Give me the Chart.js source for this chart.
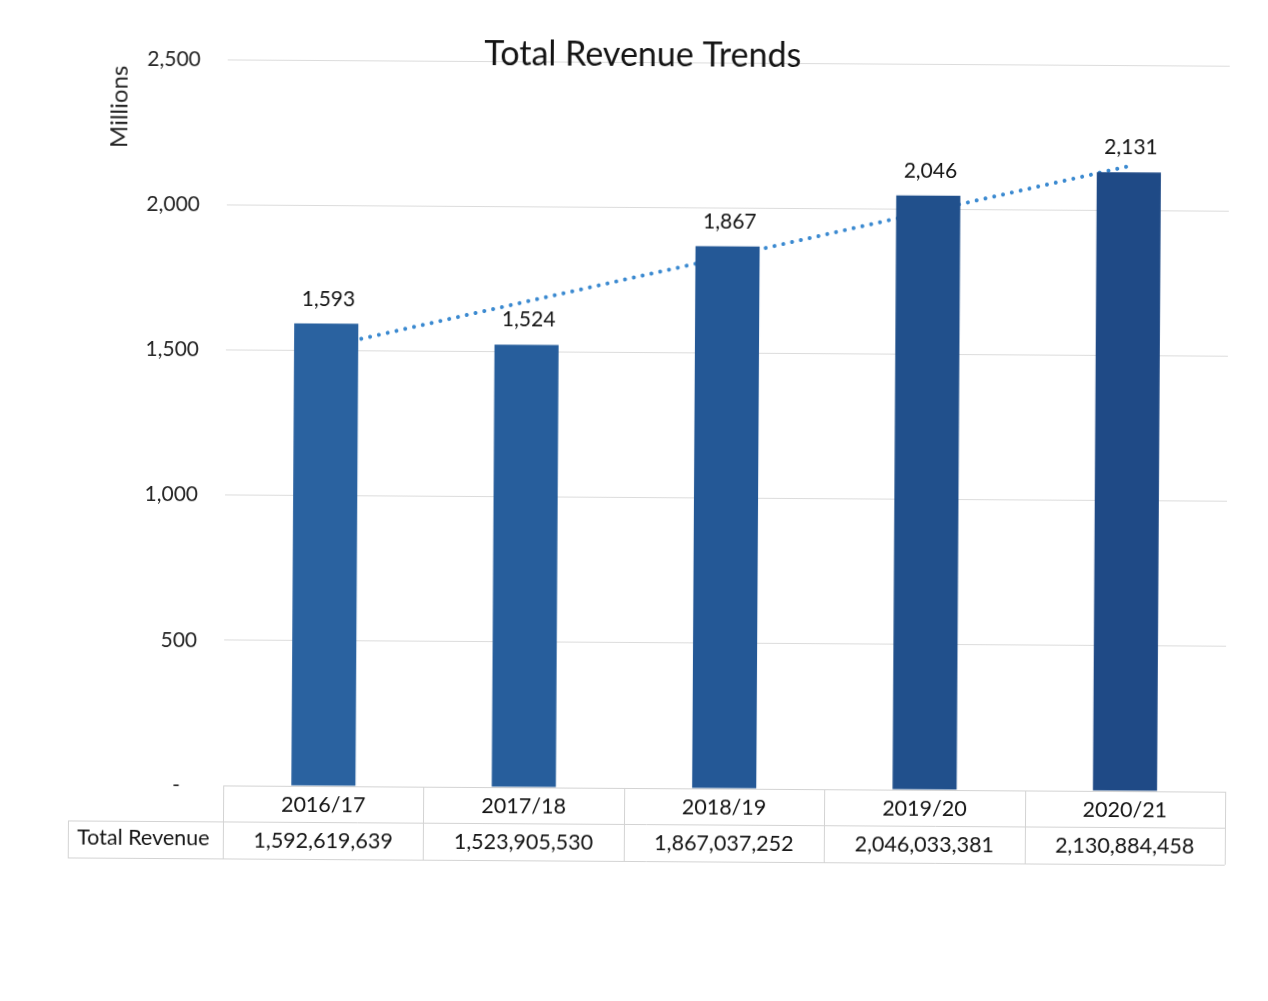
<!DOCTYPE html>
<html>
<head>
<meta charset="utf-8">
<title>Total Revenue Trends</title>
<script src="https://cdn.jsdelivr.net/npm/chart.js@4.4.1/dist/chart.umd.min.js"></script>
<style>
  html, body { margin: 0; padding: 0; background: #ffffff; overflow: hidden; }
  #wrap { width: 1268px; height: 1001px; position: relative; }
  #chart { display: block; transform: rotate(0.36deg); transform-origin: 50% 50%; }
</style>
</head>
<body>
<div id="wrap"><canvas id="chart" width="1268" height="1001"></canvas></div>
<script>
// Fiscal years and total revenue (in currency units)
const years = ['2016/17', '2017/18', '2018/19', '2019/20', '2020/21'];
const totalRevenue = [1592619639, 1523905530, 1867037252, 2046033381, 2130884458];
// Linear trend line values (millions) at each fiscal year
const trendMillions = [1513, 1673, 1832, 1992, 2152];
// Y axis ticks (millions)
const yTicks = [0, 500, 1000, 1500, 2000, 2500];
const rowLabel = 'Total Revenue';

const revenueMillions = totalRevenue.map(v => v / 1e6);
const barColors = ['#2a62a0', '#275e9c', '#245896', '#21508c', '#1f4a86'];
const FONT = 'Lato, "Open Sans", "DejaVu Sans", sans-serif';
const TEXT = '#141414';
const fmt = n => Math.round(n).toLocaleString('en-US');

const labelsPlugin = {
  id: 'revenueExtras',
  afterDatasetsDraw(chart) {
    const ctx = chart.ctx;
    const meta = chart.getDatasetMeta(0);
    ctx.save();
    ctx.font = '21px ' + FONT;
    ctx.fillStyle = TEXT;
    ctx.textAlign = 'center';
    ctx.textBaseline = 'alphabetic';
    meta.data.forEach((bar, i) => {
      ctx.fillText(fmt(revenueMillions[i]), bar.x + 2, bar.y - 18);
    });
    ctx.restore();
  },
  afterDraw(chart) {
    const ctx = chart.ctx;
    const area = chart.chartArea;
    const xs = chart.scales.x;
    const n = years.length;
    const colW = (area.right - area.left) / n;
    const top = area.bottom;
    const mid = top + 36;
    const bot = top + 73;
    const labelLeft = 70;

    ctx.save();
    // Title
    ctx.font = '34px ' + FONT;
    ctx.fillStyle = TEXT;
    ctx.textAlign = 'center';
    ctx.textBaseline = 'alphabetic';
    ctx.fillText('Total Revenue Trends', 640, 66);

    // Axis title
    ctx.save();
    ctx.translate(125, 110);
    ctx.rotate(-Math.PI / 2);
    ctx.font = '24px ' + FONT;
    ctx.fillStyle = '#262626';
    ctx.textAlign = 'center';
    ctx.textBaseline = 'alphabetic';
    ctx.fillText('Millions', 0, 0);
    ctx.restore();

    // Data table borders
    ctx.strokeStyle = '#d3d3d3';
    ctx.lineWidth = 1;
    ctx.beginPath();
    ctx.moveTo(area.left, top + 0.5); ctx.lineTo(area.right, top + 0.5);
    ctx.moveTo(labelLeft, mid + 0.5); ctx.lineTo(area.right, mid + 0.5);
    ctx.moveTo(labelLeft, bot + 0.5); ctx.lineTo(area.right, bot + 0.5);
    ctx.moveTo(labelLeft + 0.5, mid); ctx.lineTo(labelLeft + 0.5, bot);
    for (let i = 0; i <= n; i++) {
      const x = Math.round(area.left + i * colW) + 0.5;
      ctx.moveTo(x, top); ctx.lineTo(x, bot);
    }
    ctx.stroke();

    // Data table text
    ctx.font = '21.5px ' + FONT;
    ctx.fillStyle = TEXT;
    ctx.textAlign = 'center';
    ctx.textBaseline = 'middle';
    years.forEach((y, i) => {
      const cx = xs.getPixelForValue(i);
      ctx.fillText(y, cx, (top + mid) / 2 + 1);
      ctx.fillText(totalRevenue[i].toLocaleString('en-US'), cx, (mid + bot) / 2 + 1);
    });
    ctx.fillText(rowLabel, (labelLeft + area.left) / 2 - 2, (mid + bot) / 2 - 1);
    ctx.restore();
  }
};

new Chart(document.getElementById('chart'), {
  data: {
    labels: years,
    datasets: [
      {
        type: 'bar',
        label: rowLabel,
        data: revenueMillions,
        backgroundColor: barColors,
        borderWidth: 0,
        categoryPercentage: 1,
        barPercentage: 0.32,
        order: 0
      },
      {
        type: 'line',
        label: 'Linear (Total Revenue)',
        data: trendMillions,
        borderColor: '#3a89d0',
        borderWidth: 4,
        borderDash: [0.01, 9],
        borderCapStyle: 'round',
        pointRadius: 0,
        fill: false,
        tension: 0,
        order: 1
      }
    ]
  },
  options: {
    responsive: false,
    animation: false,
    layout: { padding: { top: 62, bottom: 213, right: 41, left: 0 } },
    plugins: {
      legend: { display: false },
      title: { display: false },
      tooltip: { enabled: false }
    },
    scales: {
      x: {
        type: 'category',
        display: false,
        offset: true
      },
      y: {
        min: 0,
        max: 2500,
        afterFit(scale) { scale.width = 225; },
        afterBuildTicks(scale) { scale.ticks = yTicks.map(v => ({ value: v })); },
        border: { display: false },
        grid: { color: '#dcdcdc', lineWidth: 1, drawTicks: false },
        ticks: {
          padding: 27,
          color: '#262626',
          font: { family: FONT, size: 21 },
          callback: v => (v === 0 ? '-   ' : fmt(v))
        }
      }
    }
  },
  plugins: [labelsPlugin]
});
</script>
</body>
</html>
